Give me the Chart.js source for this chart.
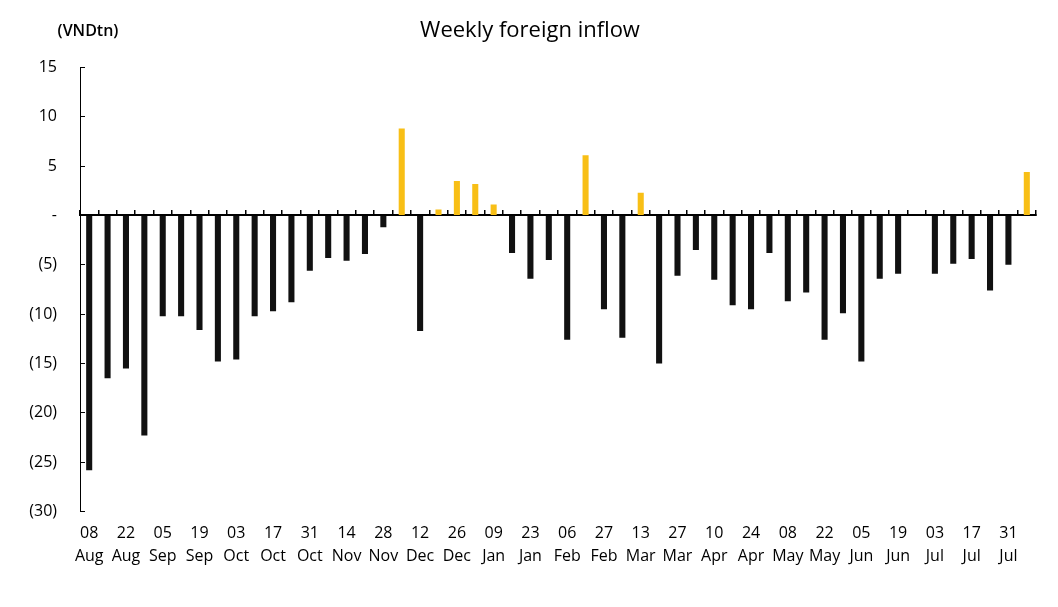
<!DOCTYPE html>
<html>
<head>
<meta charset="utf-8">
<title>Weekly foreign inflow</title>
<script src="https://cdn.jsdelivr.net/npm/chart.js@4"></script>
<style>
  html, body { margin: 0; padding: 0; background: #fff; }
  #wrap { width: 1058px; height: 607px; }
</style>
</head>
<body>
<div id="wrap"><canvas id="myChart"></canvas></div>
<script>
// week start dates (one bar per week)
const weeks = [
  '08 Aug', '15 Aug', '22 Aug', '29 Aug', '05 Sep', '12 Sep', '19 Sep', '26 Sep',
  '03 Oct', '10 Oct', '17 Oct', '24 Oct', '31 Oct', '07 Nov', '14 Nov', '21 Nov',
  '28 Nov', '05 Dec', '12 Dec', '19 Dec', '26 Dec', '02 Jan', '09 Jan', '16 Jan',
  '23 Jan', '30 Jan', '06 Feb', '13 Feb', '27 Feb', '06 Mar', '13 Mar', '20 Mar',
  '27 Mar', '03 Apr', '10 Apr', '17 Apr', '24 Apr', '01 May', '08 May', '15 May',
  '22 May', '29 May', '05 Jun', '12 Jun', '19 Jun', '26 Jun', '03 Jul', '10 Jul',
  '17 Jul', '24 Jul', '31 Jul', '07 Aug'
];

// net foreign flow, VND trillion
const inflow = [
  -25.8, -16.5, -15.5, -22.3, -10.2, -10.2, -11.6, -14.8,
  -14.6, -10.2, -9.7, -8.8, -5.6, -4.3, -4.6, -3.9,
  -1.2, 8.8, -11.7, 0.6, 3.5, 3.2, 1.1, -3.8,
  -6.4, -4.5, -12.6, 6.1, -9.5, -12.4, 2.3, -15.0,
  -6.1, -3.5, -6.5, -9.1, -9.5, -3.8, -8.7, -7.8,
  -12.6, -9.9, -14.8, -6.4, -5.9, null, -5.9, -4.9,
  -4.4, -7.6, -5.0, 4.4
];

const yTicks = [15, 10, 5, 0, -5, -10, -15, -20, -25, -30];

const BLACK = '#111111';
const YELLOW = '#F8BF16';
const FONT = "'Open Sans', sans-serif";

const unitLabel = {
  id: 'unitLabel',
  afterDraw(chart) {
    const c = chart.ctx;
    c.save();
    c.font = "600 16px " + FONT;
    c.fillStyle = '#000';
    c.textAlign = 'center';
    c.textBaseline = 'middle';
    c.fillText('(VNDtn)', 88, 31);
    c.restore();
  }
};

const ctx = document.getElementById('myChart');

new Chart(ctx, {
  type: 'bar',
  data: {
    labels: weeks,
    datasets: [{
      label: 'Weekly foreign inflow',
      data: inflow,
      backgroundColor: (c) => (c.raw >= 0 ? YELLOW : BLACK),
      borderWidth: 0,
      categoryPercentage: 1,
      barPercentage: 0.33,
      xAxisID: 'x',
      yAxisID: 'y'
    }]
  },
  options: {
    responsive: true,
    maintainAspectRatio: false,
    animation: false,
    layout: {
      padding: { top: 18, left: 24, right: 22, bottom: 29 }
    },
    plugins: {
      legend: { display: false },
      tooltip: { enabled: false },
      title: {
        display: true,
        text: 'Weekly foreign inflow',
        color: '#000',
        font: { family: FONT, size: 22, weight: 'normal' },
        padding: { top: 0, bottom: 23 }
      }
    },
    scales: {
      x: {
        position: 'bottom',
        offset: true,
        grid: { display: false, drawTicks: false },
        border: { display: false },
        ticks: {
          autoSkip: false,
          maxRotation: 0,
          padding: 10,
          color: '#000',
          font: { family: FONT, size: 16, lineHeight: 1.45 },
          callback: function (v, i) {
            return i % 2 === 0 ? weeks[i].split(' ') : '';
          }
        }
      },
      x2: {
        type: 'category',
        position: { y: 0 },
        offset: true,
        grid: {
          offset: true,
          drawOnChartArea: false,
          tickLength: -6,
          color: '#000',
          lineWidth: 1.5
        },
        border: { display: true, color: '#000', width: 2 },
        ticks: { display: false }
      },
      y: {
        min: -30,
        max: 15,
        afterBuildTicks: (s) => { s.ticks = yTicks.map(v => ({ value: v })); },
        afterFit: (s) => { s.width = 56; },
        grid: {
          drawOnChartArea: false,
          tickLength: -5,
          color: '#000',
          lineWidth: 1
        },
        border: { display: true, color: '#000', width: 1 },
        ticks: {
          padding: 28,
          color: '#000',
          font: { family: FONT, size: 16 },
          callback: function (v) {
            if (v === 0) return '-';
            return v < 0 ? '(' + Math.abs(v) + ')' : String(v);
          }
        }
      }
    }
  },
  plugins: [unitLabel]
});
</script>
</body>
</html>
